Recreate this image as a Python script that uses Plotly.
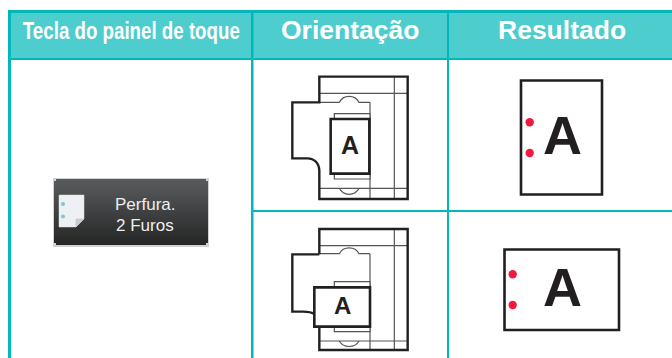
import plotly.graph_objects as go

# Text content
header_labels = ["Tecla do painel de toque", "Orientação", "Resultado"]
button_labels = ["Perfura.", "2 Furos"]
paper_letter = "A"

W, H = 672, 358
TEAL_LINE = "#00B7B9"
TEAL_FILL = "#4DCDCD"
INK = "#231F20"
THIN = "#555555"
RED = "#EF1B3F"

shapes = []
annotations = []


def rect(x0, y0, x1, y1, fill=None, line=None, width=0, layer="above"):
    shapes.append(dict(type="rect", x0=x0, y0=y0, x1=x1, y1=y1, layer=layer,
                       fillcolor=fill or "rgba(0,0,0,0)",
                       line=dict(color=line or "rgba(0,0,0,0)", width=width)))


def path(d, line=INK, width=1.0, fill=None, layer="above"):
    shapes.append(dict(type="path", path=d, layer=layer,
                       fillcolor=fill or "rgba(0,0,0,0)",
                       line=dict(color=line, width=width)))


def text(x, y, s, size, color="#FFFFFF", bold=False, family="Liberation Sans"):
    annotations.append(dict(x=x, y=y, text=f"<b>{s}</b>" if bold else s, showarrow=False,
                            xanchor="center", yanchor="middle",
                            font=dict(size=size, color=color, family=family)))


# Table
rect(10, 12, W + 2, 59, fill=TEAL_FILL)
rect(8, 10, W + 2, 13, fill=TEAL_LINE)
rect(8, 58, W + 2, 60, fill=TEAL_LINE)
rect(8, 10, 11, H + 2, fill=TEAL_LINE)
rect(251, 10, 253.5, H + 2, fill=TEAL_LINE)
rect(447, 10, 449, H + 2, fill=TEAL_LINE)
rect(252, 210, W + 2, 212, fill=TEAL_LINE)

text(131, 31, header_labels[0], 23, bold=True)
text(350, 30, header_labels[1], 26.5, bold=True)
text(562, 30, header_labels[2], 26.5, bold=True)

# Touch panel button
rect(53, 178, 209, 247, fill="#D2D2D2", layer="below")
steps = 33
for i in range(steps):
    t = i / (steps - 1)
    c = [round(a + (b - a) * t) for a, b in zip((0x58, 0x5B, 0x5D), (0x26, 0x26, 0x26))]
    y0 = 179 + i * 2
    inset = 2 if i == 0 or i == steps - 1 else 0
    rect(54 + inset, y0, 208 - inset, y0 + 2, fill=f"rgb({c[0]},{c[1]},{c[2]})", layer="below")
path("M59,195 L84,195 L84,219 L76,227 L59,227 Z", line="#DDDDDD", width=0.5, fill="#EEF1F3", layer="below")
path("M84,219 L76,219 L76,227 Z", line="#B9BCBE", width=0.5, fill="#C9CCCE", layer="below")
text(145, 204, button_labels[0], 17, color="#EEEEEE")
text(145, 225, button_labels[1], 17, color="#EEEEEE")


def tray(ox, oy, outer, y_top, y_arc_top, y_bot, y_arc_bot, y_h1, paper, back, a_xy, a_size):
    def X(v):
        return round(ox + v / 3, 2)

    def Y(v):
        return round(oy + v / 3, 2)

    # thin internal lines
    path(f"M{X(118)},{Y(y_h1)} L{X(383)},{Y(y_h1)}", line=THIN, width=1.2)
    path(f"M{X(118)},{Y(y_bot)} L{X(383)},{Y(y_bot)}", line=THIN, width=1.2)
    path(f"M{X(343)},{Y(outer['top'])} L{X(343)},{Y(outer['bot'])}", line=THIN, width=1.2)
    path(f"M{X(270)},{Y(y_top)} L{X(270)},{Y(outer['bot'])}", line=THIN, width=1.2)
    path(f"M{X(118)},{Y(y_top)} L{X(178)},{Y(y_top)} C{X(190)},{Y(y_arc_top)} {X(225)},{Y(y_arc_top)} {X(237)},{Y(y_top)} L{X(270)},{Y(y_top)}",
         line=THIN, width=1.2)
    path(f"M{X(178)},{Y(y_bot)} C{X(190)},{Y(y_arc_bot)} {X(225)},{Y(y_arc_bot)} {X(237)},{Y(y_bot)}",
         line=THIN, width=1.2)
    # outer contour
    path(outer["d"](X, Y), width=2.4)
    # paper behind, and paper
    rect(X(back[0]), Y(back[1]), X(back[2]), Y(back[3]), fill="#FFFFFF", line=THIN, width=1.2)
    rect(X(paper[0]), Y(paper[1]), X(paper[2]), Y(paper[3]), fill="#FFFFFF", line=INK, width=2.6)
    text(X(a_xy[0]), Y(a_xy[1]), paper_letter, a_size, color=INK, bold=True)


tray(280, 65,
     dict(top=35, bot=402,
          d=lambda X, Y: (f"M{X(118)},{Y(112)} L{X(118)},{Y(35)} L{X(383)},{Y(35)} L{X(383)},{Y(402)} "
                          f"L{X(118)},{Y(402)} L{X(118)},{Y(318)} C{X(118)},{Y(295)} {X(103)},{Y(280)} {X(82)},{Y(280)} "
                          f"L{X(37)},{Y(280)} L{X(37)},{Y(112)} Z")),
     y_top=112, y_arc_top=88, y_bot=370, y_arc_bot=394, y_h1=85,
     paper=(152, 162, 268, 326), back=(163, 146, 270, 342), a_xy=(210, 240), a_size=25)

tray(280, 215,
     dict(top=42, bot=405,
          d=lambda X, Y: (f"M{X(118)},{Y(118)} L{X(118)},{Y(42)} L{X(383)},{Y(42)} L{X(383)},{Y(405)} "
                          f"L{X(118)},{Y(405)} L{X(118)},{Y(330)} M{X(105)},{Y(298)} C{X(95)},{Y(292)} {X(85)},{Y(290)} {X(70)},{Y(290)} "
                          f"L{X(37)},{Y(290)} L{X(37)},{Y(118)} L{X(118)},{Y(118)}")),
     y_top=116, y_arc_top=93, y_bot=378, y_arc_bot=400, y_h1=92,
     paper=(103, 217, 270, 335), back=(163, 200, 270, 350), a_xy=(187, 270), a_size=24)

# Results
rect(521, 80.5, 602, 194.5, line=INK, width=2.6)
rect(504.5, 249.5, 619, 330, line=INK, width=2.6)
text(562.3, 135, paper_letter, 54, color=INK, bold=True)
text(562.3, 287, paper_letter, 54, color=INK, bold=True)

fig = go.Figure(go.Scatter(
    x=[529.7, 529.7, 512.7, 512.7], y=[122.3, 153, 274.3, 305], mode="markers",
    marker=dict(size=8.4, color=RED), hoverinfo="skip", showlegend=False))
fig.add_trace(go.Scatter(
    x=[63, 63], y=[204, 216.5], mode="markers",
    marker=dict(size=4, color="#7CC6DA"), hoverinfo="skip", showlegend=False))

fig.update_layout(
    width=W, height=H, margin=dict(l=0, r=0, t=0, b=0),
    paper_bgcolor="#FFFFFF", plot_bgcolor="#FFFFFF",
    xaxis=dict(range=[0, W], visible=False, fixedrange=True),
    yaxis=dict(range=[H, 0], visible=False, fixedrange=True),
    shapes=shapes, annotations=annotations, showlegend=False,
)
post = """
document.body.style.margin = '0';
var t = document.querySelector('.annotation-text');
if (t) { t.setAttribute('textLength', '217'); t.setAttribute('lengthAdjust', 'spacingAndGlyphs'); }
"""
fig.write_html("out.html", config=dict(displayModeBar=False), post_script=post)
